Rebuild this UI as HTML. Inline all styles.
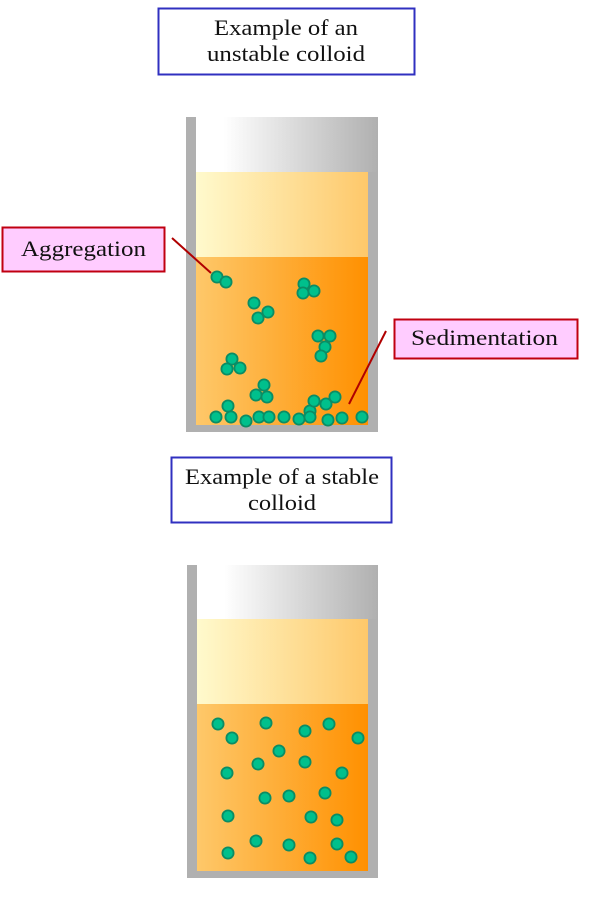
<!DOCTYPE html>
<html><head><meta charset="utf-8"><style>
html,body{margin:0;padding:0;background:#fff;width:600px;height:900px;overflow:hidden}
svg text{font-family:"Liberation Serif",serif;font-size:22px;fill:#111}
</style></head><body>
<svg width="600" height="900" viewBox="0 0 600 900" xmlns="http://www.w3.org/2000/svg">
<defs>
<linearGradient id="g" x1="0" x2="1"><stop offset="0.15" stop-color="#fff"/><stop offset="1" stop-color="#b0b0b0"/></linearGradient>
<linearGradient id="l" x1="0" x2="1"><stop offset="0" stop-color="#fffacd"/><stop offset="1" stop-color="#fec86a"/></linearGradient>
<linearGradient id="o" x1="0" x2="1"><stop offset="0" stop-color="#fec86a"/><stop offset="1" stop-color="#ff9000"/></linearGradient>
</defs>
<rect x="158.5" y="8.5" width="256" height="66" fill="#fff" stroke="#3030c0" stroke-width="2"/>
<text x="214" y="35" textLength="144" lengthAdjust="spacingAndGlyphs">Example of an</text>
<text x="207" y="61" textLength="158" lengthAdjust="spacingAndGlyphs">unstable colloid</text>
<rect x="171.5" y="457.5" width="220" height="65" fill="#fff" stroke="#3030c0" stroke-width="2"/>
<text x="185" y="484" textLength="194" lengthAdjust="spacingAndGlyphs">Example of a stable</text>
<text x="248" y="510" textLength="68" lengthAdjust="spacingAndGlyphs">colloid</text>
<rect x="196" y="117" width="182" height="308" fill="url(#g)"/>
<rect x="186" y="117" width="10" height="315" fill="#b0b0b0"/>
<rect x="368" y="172" width="10" height="260" fill="#b0b0b0"/>
<rect x="186" y="425" width="192" height="7" fill="#b0b0b0"/>
<rect x="196" y="172" width="172" height="85" fill="url(#l)"/>
<rect x="196" y="257" width="172" height="168" fill="url(#o)"/>
<rect x="197" y="565" width="181" height="306" fill="url(#g)"/>
<rect x="187" y="565" width="10" height="313" fill="#b0b0b0"/>
<rect x="368" y="619" width="10" height="259" fill="#b0b0b0"/>
<rect x="187" y="871" width="191" height="7" fill="#b0b0b0"/>
<rect x="197" y="619" width="171" height="85" fill="url(#l)"/>
<rect x="197" y="704" width="171" height="167" fill="url(#o)"/>
<g fill="#00c08c" stroke="#0b8c64" stroke-width="1.8">
<circle cx="217" cy="277" r="5.6"/><circle cx="226" cy="282" r="5.6"/><circle cx="304" cy="284" r="5.6"/><circle cx="303" cy="293" r="5.6"/><circle cx="314" cy="291" r="5.6"/><circle cx="254" cy="303" r="5.6"/><circle cx="268" cy="312" r="5.6"/><circle cx="258" cy="318" r="5.6"/><circle cx="318" cy="336" r="5.6"/><circle cx="330" cy="336" r="5.6"/><circle cx="325" cy="347" r="5.6"/><circle cx="321" cy="356" r="5.6"/><circle cx="232" cy="359" r="5.6"/><circle cx="227" cy="369" r="5.6"/><circle cx="240" cy="368" r="5.6"/><circle cx="264" cy="385" r="5.6"/><circle cx="256" cy="395" r="5.6"/><circle cx="267" cy="397" r="5.6"/><circle cx="228" cy="406" r="5.6"/><circle cx="216" cy="417" r="5.6"/><circle cx="231" cy="417" r="5.6"/><circle cx="246" cy="421" r="5.6"/><circle cx="259" cy="417" r="5.6"/><circle cx="269" cy="417" r="5.6"/><circle cx="284" cy="417" r="5.6"/><circle cx="299" cy="419" r="5.6"/><circle cx="310" cy="411" r="5.6"/><circle cx="310" cy="417" r="5.6"/><circle cx="314" cy="401" r="5.6"/><circle cx="326" cy="404" r="5.6"/><circle cx="335" cy="397" r="5.6"/><circle cx="328" cy="420" r="5.6"/><circle cx="342" cy="418" r="5.6"/><circle cx="362" cy="417" r="5.6"/>
<circle cx="218" cy="724" r="5.6"/><circle cx="232" cy="738" r="5.6"/><circle cx="266" cy="723" r="5.6"/><circle cx="305" cy="731" r="5.6"/><circle cx="329" cy="724" r="5.6"/><circle cx="358" cy="738" r="5.6"/><circle cx="279" cy="751" r="5.6"/><circle cx="258" cy="764" r="5.6"/><circle cx="305" cy="762" r="5.6"/><circle cx="227" cy="773" r="5.6"/><circle cx="342" cy="773" r="5.6"/><circle cx="265" cy="798" r="5.6"/><circle cx="289" cy="796" r="5.6"/><circle cx="325" cy="793" r="5.6"/><circle cx="228" cy="816" r="5.6"/><circle cx="311" cy="817" r="5.6"/><circle cx="337" cy="820" r="5.6"/><circle cx="256" cy="841" r="5.6"/><circle cx="289" cy="845" r="5.6"/><circle cx="337" cy="844" r="5.6"/><circle cx="228" cy="853" r="5.6"/><circle cx="310" cy="858" r="5.6"/><circle cx="351" cy="857" r="5.6"/>
</g>
<line x1="172" y1="238" x2="211" y2="273" stroke="#b00000" stroke-width="2"/>
<line x1="386" y1="331" x2="349" y2="404" stroke="#b00000" stroke-width="2"/>
<rect x="2.5" y="227.5" width="162" height="44" fill="#ffccff" stroke="#c00010" stroke-width="2"/>
<text x="21" y="256" textLength="125" lengthAdjust="spacingAndGlyphs">Aggregation</text>
<rect x="394.5" y="319.5" width="183" height="39" fill="#ffccff" stroke="#c00010" stroke-width="2"/>
<text x="411" y="345" textLength="147" lengthAdjust="spacingAndGlyphs">Sedimentation</text>
</svg>
</body></html>
